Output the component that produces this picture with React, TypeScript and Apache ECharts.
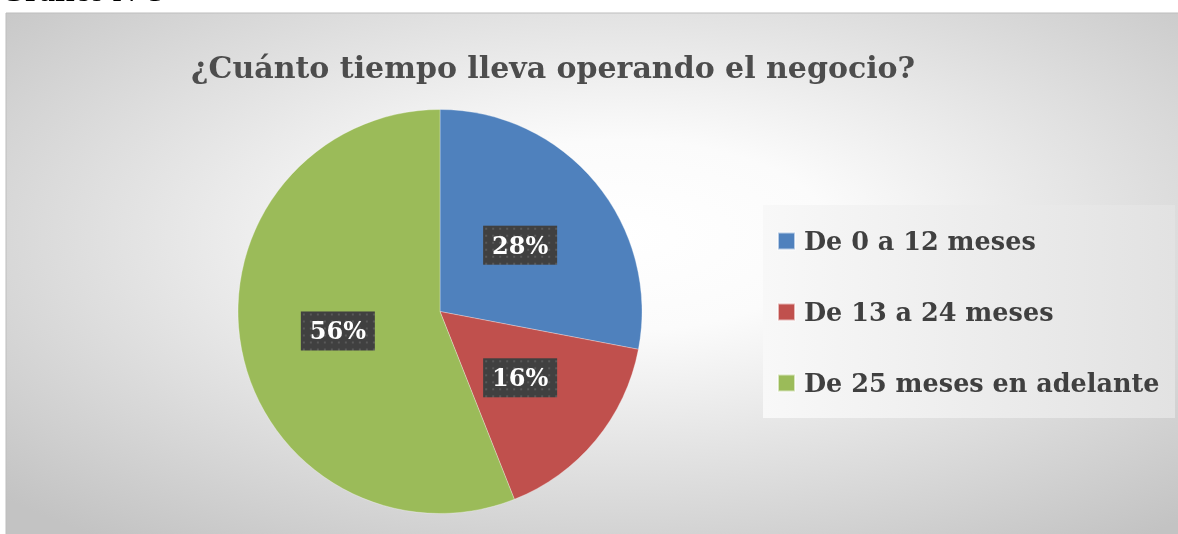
import React, { useEffect, useRef } from "react";
import * as echarts from "echarts";

const caption = "Gráfico N°5";
const chartTitle = "¿Cuánto tiempo lleva operando el negocio?";
const categories = ["De 0 a 12 meses", "De 13 a 24 meses", "De 25 meses en adelante"];
const values = [28, 16, 56];
const sliceColors = ["#4F81BD", "#C0504D", "#9BBB59"];

const SERIF = '"DejaVu Serif", "Liberation Serif", serif';

function makePattern(w: number, h: number): string {
  const c = document.createElement("canvas");
  c.width = w;
  c.height = h;
  const ctx = c.getContext("2d");
  if (!ctx) return "";
  ctx.fillStyle = "#404040";
  ctx.fillRect(0, 0, w, h);
  ctx.fillStyle = "#595959";
  for (let y = 2; y < h; y += 7) {
    for (let x = 2; x < w; x += 7) {
      ctx.fillRect(x, y, 2, 2);
    }
  }
  return c.toDataURL();
}

export default function App() {
  const ref = useRef<HTMLDivElement>(null);

  useEffect(() => {
    if (!ref.current) return;
    const chart = echarts.init(ref.current, undefined, { renderer: "svg" });
    const pattern = makePattern(74, 39);

    chart.setOption({
      animation: false,
      graphic: [
        {
          type: "rect",
          z: -10,
          silent: true,
          shape: { x: 6, y: 13, width: 1180, height: 530 },
          style: {
            fill: {
              type: "radial",
              x: 0.52,
              y: 0.42,
              r: 0.72,
              colorStops: [
                { offset: 0, color: "#ffffff" },
                { offset: 0.25, color: "#fbfbfb" },
                { offset: 1, color: "#c3c3c3" },
              ],
            },
            stroke: "#bdbdbd",
            lineWidth: 1,
          },
        },
        {
          type: "rect",
          z: -5,
          silent: true,
          shape: { x: 763, y: 205, width: 412, height: 213 },
          style: {
            fill: {
              type: "linear",
              x: 0,
              y: 0,
              x2: 1,
              y2: 0,
              colorStops: [
                { offset: 0, color: "#f8f8f8" },
                { offset: 1, color: "#e2e2e2" },
              ],
            },
          },
        },
        {
          type: "text",
          left: 0,
          top: -26,
          silent: true,
          style: {
            text: caption,
            font: 'bold 32px "Liberation Serif", serif',
            fill: "#000000",
          },
        },
      ],
      title: {
        text: chartTitle,
        left: 186,
        top: 47,
        textStyle: {
          fontFamily: SERIF,
          fontWeight: "bold",
          fontSize: 30,
          color: "#4d4d4d",
        },
      },
      legend: {
        orient: "vertical",
        left: 763,
        top: 205,
        padding: [21, 10, 20, 14],
        itemWidth: 17,
        itemHeight: 17,
        itemGap: 41,
        icon: "rect",
        data: categories,
        textStyle: {
          fontFamily: SERIF,
          fontWeight: "bold",
          fontSize: 25.5,
          lineHeight: 30,
          color: "#404040",
          padding: [0, 0, 0, 4],
        },
      },
      series: [
        {
          type: "pie",
          center: [440, 311.5],
          radius: 202,
          startAngle: 90,
          clockwise: true,
          silent: true,
          emphasis: { disabled: true },
          itemStyle: { borderColor: "rgba(255,255,255,0.6)", borderWidth: 0.5 },
          label: {
            show: true,
            position: "inside",
            formatter: (p: any) => Math.round(p.percent) + "%",
            fontFamily: SERIF,
            fontWeight: "bold",
            fontSize: 24,
            color: "#ffffff",
            width: 74,
            height: 39,
            lineHeight: 39,
            align: "center",
            verticalAlign: "middle",
            padding: 0,
            backgroundColor: { image: pattern },
            shadowColor: "rgba(0,0,0,0.45)",
            shadowBlur: 5,
            shadowOffsetX: 3,
            shadowOffsetY: 3,
          },
          labelLine: { show: false },
          data: categories.map((name, i) => ({
            name,
            value: values[i],
            itemStyle: { color: sliceColors[i] },
          })),
        },
      ],
    });

    return () => chart.dispose();
  }, []);

  return (
    <div
      ref={ref}
      style={{ position: "fixed", left: 0, top: 0, width: 1178, height: 534 }}
    />
  );
}
